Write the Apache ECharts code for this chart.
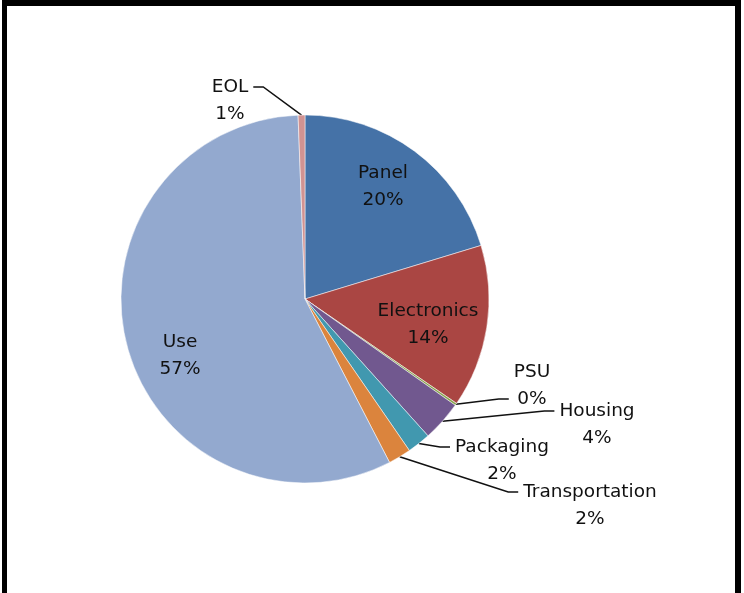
<!DOCTYPE html>
<html>
<head>
<meta charset="utf-8">
<script src="https://cdn.jsdelivr.net/npm/echarts@6/dist/echarts.min.js"></script>
<style>
html,body{margin:0;padding:0;background:#fff;}
#chart{position:absolute;left:0;top:0;width:744px;height:593px;}
#frame{position:absolute;left:2px;top:0;width:728px;height:610px;border-top:6px solid #000;border-left:5px solid #000;border-right:6px solid #000;pointer-events:none;}
</style>
</head>
<body>
<div id="chart"></div>
<div id="frame"></div>
<script>
// ---- data ----
const categories = ['Panel', 'Electronics', 'PSU', 'Housing', 'Packaging', 'Transportation', 'Use', 'EOL'];
const shares = [20.3, 14.3, 0.2, 3.55, 2.05, 2.0, 57.0, 0.6];
const insideLabels = ['Panel', 'Electronics', 'Use'];

// ---- styles / layout ----
const sliceColors = ['#4572A7', '#AA4643', '#89A54E', '#71588F', '#4198AF', '#DB843D', '#93A9CF', '#D19392'];
// leaderAt: which text line the leader line meets ('first' / 'second'); side padding gives the gap
const labelPlacement = {
  Panel:          { x: 383,   y: 186.5 },
  Electronics:    { x: 428,   y: 325 },
  PSU:            { x: 529.5, y: 399,   leaderAt: 'second', padding: [0, 0, 0, 5] },
  Housing:        { x: 594.5, y: 411,   leaderAt: 'first',  padding: [0, 0, 0, 5] },
  Packaging:      { x: 499.5, y: 447,   leaderAt: 'first',  padding: [0, 0, 0, 5] },
  Transportation: { x: 587.5, y: 492,   leaderAt: 'first',  padding: [0, 0, 0, 5] },
  Use:            { x: 180,   y: 356 },
  EOL:            { x: 232.5, y: 87,    leaderAt: 'first',  padding: [0, 5, 0, 0] }
};

const pieData = categories.map(function (name, i) {
  const inside = insideLabels.indexOf(name) >= 0;
  const place = labelPlacement[name];
  return {
    name: name,
    value: shares[i],
    itemStyle: { color: sliceColors[i] },
    label: { position: inside ? 'inside' : 'outside', padding: place.padding || 0 },
    labelLine: { show: !inside }
  };
});

const chart = echarts.init(document.getElementById('chart'), null, { renderer: 'canvas' });
chart.setOption({
  animation: false,
  backgroundColor: '#ffffff',
  series: [{
    type: 'pie',
    center: [305, 299],
    radius: [0, 184],
    startAngle: 90,
    clockwise: true,
    avoidLabelOverlap: false,
    silent: true,
    itemStyle: { borderColor: '#ffffff', borderWidth: 0.5 },
    label: {
      show: true,
      color: '#111',
      fontFamily: 'DejaVu Sans',
      fontSize: 18.5,
      lineHeight: 27,
      formatter: function (p) {
        const text = p.name + '\n' + Math.round(p.percent) + '%';
        const lead = labelPlacement[p.name].leaderAt;
        if (lead === 'first') return '\n' + text;
        if (lead === 'second') return text + '\n';
        return text;
      }
    },
    labelLine: {
      length: 10,
      length2: 10,
      smooth: false,
      lineStyle: { color: '#111', width: 1.5 }
    },
    labelLayout: function (params) {
      const place = labelPlacement[categories[params.dataIndex]];
      return { x: place.x, y: place.y, align: 'center', verticalAlign: 'middle' };
    },
    data: pieData
  }]
});
</script>
</body>
</html>
